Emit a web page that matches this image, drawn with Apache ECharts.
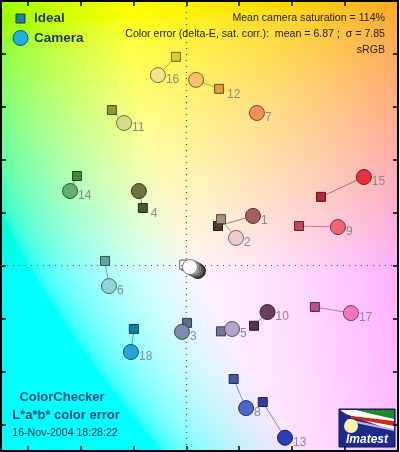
<!DOCTYPE html>
<html>
<head>
<meta charset="utf-8">
<script src="https://cdn.jsdelivr.net/npm/echarts@6.0.0/dist/echarts.min.js"></script>
<style>
html,body{margin:0;padding:0;background:#fff;}
#chart{width:400px;height:452px;}
</style>
</head>
<body>
<div id="chart"></div>
<script>
// ---- data (a*, b*) ----
const patchIds = [1,2,3,4,5,6,7,8,9,10,11,12,13,14,15,16,17,18,19,20,21,22,23,24];
const idealA  = [12.0,13.1,0.3,-16.4,13.1,-30.7,26.3,17.9,42.6,25.6,-28.1,12.4,28.9,-41.3,50.9,-3.9,48.6,-19.8,-0.8,-0.6,-0.4,-0.3,-0.2,-0.1];
const idealB  = [15.0,17.6,-21.6,21.8,-24.8,1.8,57.3,-42.8,15.0,-22.7,58.8,66.8,-51.5,33.9,26.0,78.9,-15.6,-23.9,0.4,0.3,0.3,0.2,0.2,0.1];
const cameraA = [25.2,18.8,-1.6,-17.9,17.3,-29.2,26.7,22.6,57.3,30.7,-23.5,3.7,37.3,-43.9,67.1,-10.7,62.2,-20.9,1.4,1.8,2.3,2.9,3.7,4.4];
const cameraB = [18.8,10.5,-25.0,28.2,-23.9,-7.7,57.7,-53.8,14.6,-17.5,53.9,70.2,-65.0,28.2,33.5,72.0,-17.9,-32.6,-0.5,-0.7,-0.9,-1.2,-1.6,-2.0];
// which marker carries the patch number: 'c' camera circle, 'i' ideal square, '' none
const labelAt = ['c','c','c','i','c','c','c','c','c','c','c','i','c','c','c','c','c','c','','','','','',''];
const idealColors = ['#4e3a2c','#a89080','#5f6e8c','#4d5538','#76789a','#5aa8a0','#e07a3a','#3f5aa8','#c04a5c','#5a3050','#8a9a30','#dca030','#2e3e98','#3a8a40','#b0263a','#e0c830','#b8508a','#1080a8','#f4f4f4','#c8c8c8','#a0a0a0','#7a7a7a','#555555','#333333'];
const cameraColors = ['#a0625a','#eccccc','#7e8cae','#707040','#b0a8cc','#90d4d8','#f0905a','#4a68c8','#f06478','#6a4060','#d4dc88','#f8c068','#2a40b8','#62b070','#ea3040','#f4e488','#f078b8','#28a4d8','#ffffff','#e4e4e4','#c4c4c4','#989898','#6a6a6a','#3a3a3a'];
const xTicks = [-60,-40,-20,0,20,40,60,80];
const yTicks = [-60,-40,-20,0,20,40,60,80];
const xRange = [-70, 80];
const yRange = [-70, 100];
const statLines = ['Mean camera saturation = 114%', 'Color error (delta-E, sat. corr.):  mean = 6.87 ;  \u03c3 = 7.85', 'sRGB'];
const titleLines = ['ColorChecker', 'L*a*b* color error', '16-Nov-2004 18:28:22'];

// ---- helpers ----
function darken(hex, k){
  const n = parseInt(hex.slice(1),16);
  const r = Math.round(((n>>16)&255)*k), g = Math.round(((n>>8)&255)*k), b = Math.round((n&255)*k);
  return 'rgb('+r+','+g+','+b+')';
}
function lab2rgb(L,a,b){
  const fy=(L+16)/116, fx=fy+a/500, fz=fy-b/200;
  const finv=t=> t>6/29 ? t*t*t : 3*(6/29)*(6/29)*(t-4/29);
  const X=0.95047*finv(fx), Y=finv(fy), Z=1.08883*finv(fz);
  const r=3.2406*X-1.5372*Y-0.4986*Z, g=-0.9689*X+1.8758*Y+0.0415*Z, bb=0.0557*X-0.2040*Y+1.0570*Z;
  const gam=c=>{c=Math.min(1,Math.max(0,c)); return c<=0.0031308?12.92*c:1.055*Math.pow(c,1/2.4)-0.055;};
  return [gam(r)*255, gam(g)*255, gam(bb)*255];
}

const chart = echarts.init(document.getElementById('chart'), null, {renderer:'canvas'});

const FONT = 'Liberation Sans, Arial, sans-serif';
function axisCommon(){
  return {
    type:'value', min:xRange[0], max:xRange[1],
    axisLine:{show:true, onZero:false, lineStyle:{color:'#000', width:2}},
    axisTick:{show:true, inside:true, length:5, lineStyle:{color:'#000', width:1.5}},
    axisLabel:{show:false}, splitLine:{show:false}
  };
}
const xa0 = Object.assign(axisCommon(), {position:'bottom'}); xa0.axisTick.customValues = xTicks;
const xa1 = Object.assign(axisCommon(), {position:'top'}); xa1.axisTick.customValues = xTicks;
const ya0 = Object.assign(axisCommon(), {position:'left', min:yRange[0], max:yRange[1]}); ya0.axisTick.customValues = yTicks;
const ya1 = Object.assign(axisCommon(), {position:'right', min:yRange[0], max:yRange[1]}); ya1.axisTick.customValues = yTicks;

// order: patches 1..18, then neutrals from darkest to white so white sits on top
const order = patchIds.map((id,i)=>i);
const drawOrder = order.slice(0,18).concat(order.slice(18).reverse());

const numLabel = {
  formatter:p=>p.name, position:[16,13], align:'left', verticalAlign:'middle',
  color:'#8a8a8a', fontSize:12, fontFamily:FONT
};

const linkData = drawOrder.map(i=>({
  coords:[[idealA[i], idealB[i]], [cameraA[i], cameraB[i]]],
  lineStyle:{color: darken(idealColors[i], 0.55), width:1}
}));
const idealData = drawOrder.map(i=>({
  value:[idealA[i], idealB[i]],
  name: String(patchIds[i]),
  itemStyle:{color: idealColors[i], borderColor: darken(idealColors[i], 0.5), borderWidth:1, opacity:1},
  label:Object.assign({show: labelAt[i]==='i'}, numLabel, {position:[13,11]})
}));
const cameraData = drawOrder.map(i=>({
  value:[cameraA[i], cameraB[i]],
  name: String(patchIds[i]),
  itemStyle:{color: cameraColors[i], borderColor: darken(cameraColors[i], 0.5), borderWidth:1, opacity:1},
  label:Object.assign({show: labelAt[i]==='c'}, numLabel)
}));

const option = {
  animation:false,
  backgroundColor:'#ffffff',
  grid:{left:1, right:2, top:1, bottom:1, containLabel:false},
  xAxis:[xa0, xa1],
  yAxis:[ya0, ya1],
  series:[
    {
      type:'lines', coordinateSystem:'cartesian2d', polyline:false, silent:true, z:3,
      data: linkData,
      markLine:{
        silent:true, symbol:['none','none'], label:{show:false},
        lineStyle:{color:'#555', type:[1,5], width:1.2},
        data:[{xAxis:0},{yAxis:0}]
      }
    },
    {
      name:'Ideal', type:'scatter', symbol:'rect', symbolSize:9, z:4,
      itemStyle:{opacity:1},
      data: idealData
    },
    {
      name:'Camera', type:'scatter', symbol:'circle', symbolSize:15, z:5,
      itemStyle:{opacity:1},
      data: cameraData
    }
  ],
  graphic:[]
};
chart.setOption(option);

// ---- background: the a*b* colour plane, placed on the plot through the axes ----
const p0 = chart.convertToPixel({gridIndex:0}, [xRange[0], yRange[1]]);
const p1 = chart.convertToPixel({gridIndex:0}, [xRange[1], yRange[0]]);
const bw = Math.round(p1[0]-p0[0]), bh = Math.round(p1[1]-p0[1]);
const cv = document.createElement('canvas'); cv.width = bw; cv.height = bh;
const ctx = cv.getContext('2d');
const img = ctx.createImageData(bw, bh);
const Lref = 97;
for (let y=0; y<bh; y++){
  const bv = yRange[1] - (y+0.5)/bh*(yRange[1]-yRange[0]);
  for (let x=0; x<bw; x++){
    const av = xRange[0] + (x+0.5)/bw*(xRange[1]-xRange[0]);
    const c = lab2rgb(Lref, av, bv);
    const k = (y*bw+x)*4;
    img.data[k]=c[0]; img.data[k+1]=c[1]; img.data[k+2]=c[2]; img.data[k+3]=255;
  }
}
ctx.putImageData(img,0,0);

const navy = '#1c3a5c';
chart.setOption({
  graphic:[
    {type:'image', x:p0[0], y:p0[1], z:-10, silent:true, style:{image:cv, width:bw, height:bh}},
    // legend
    {type:'rect', x:16, y:14, z:20, shape:{width:9, height:9}, style:{fill:'#1f7fa8', stroke:'#143c55', lineWidth:1}},
    {type:'circle', x:20.5, y:38, z:20, shape:{r:7.5}, style:{fill:'#1eb0e2', stroke:'#145070', lineWidth:1}},
    {type:'text', x:34, y:18.5, z:20, style:{text:'Ideal', fill:navy, font:'bold 13.5px '+FONT, verticalAlign:'middle'}},
    {type:'text', x:34, y:38.5, z:20, style:{text:'Camera', fill:navy, font:'bold 13.5px '+FONT, verticalAlign:'middle'}},
    // stats
    {type:'text', x:385, y:18, z:20, style:{text:statLines[0], fill:'#222', font:'10.6px '+FONT, align:'right', verticalAlign:'middle'}},
    {type:'text', x:385, y:34, z:20, style:{text:statLines[1], fill:'#222', font:'10.6px '+FONT, align:'right', verticalAlign:'middle'}},
    {type:'text', x:385, y:50, z:20, style:{text:statLines[2], fill:'#222', font:'10.6px '+FONT, align:'right', verticalAlign:'middle'}},
    // title block
    {type:'text', x:62, y:397, z:20, style:{text:titleLines[0], fill:'#1e5282', font:'bold 13px '+FONT, align:'center', verticalAlign:'middle'}},
    {type:'text', x:66, y:415, z:20, style:{text:titleLines[1], fill:'#1e4a78', font:'bold 13px '+FONT, align:'center', verticalAlign:'middle'}},
    {type:'text', x:65, y:433, z:20, style:{text:titleLines[2], fill:'#1a2a48', font:'10.6px '+FONT, align:'center', verticalAlign:'middle'}},
    // logo
    {type:'group', z:20, children:[
      {type:'rect', shape:{x:339, y:409, width:56, height:38}, style:{fill:'#1c2a8c', stroke:'#0e1650', lineWidth:1}},
      {type:'polygon', shape:{points:[[340,410],[394,410],[394,431],[346,414]]}, style:{fill:'#ffffff'}},
      {type:'polygon', shape:{points:[[356,410],[394,410],[394,419],[372,414]]}, style:{fill:'#1f8a2a'}},
      {type:'polygon', shape:{points:[[352,416],[394,421],[394,426],[350,418]]}, style:{fill:'#d02a1a'}},
      {type:'polygon', shape:{points:[[348,419],[394,429],[394,431],[346,421]]}, style:{fill:'#c8b0d8'}},
      {type:'circle', shape:{cx:351, cy:426, r:7}, style:{fill:'#fbf5b0'}},
      {type:'text', x:367, y:440, style:{text:'Imatest', fill:'#ffffff', font:'italic bold 12px '+FONT, align:'center', verticalAlign:'middle'}}
    ]}
  ]
});
</script>
</body>
</html>
